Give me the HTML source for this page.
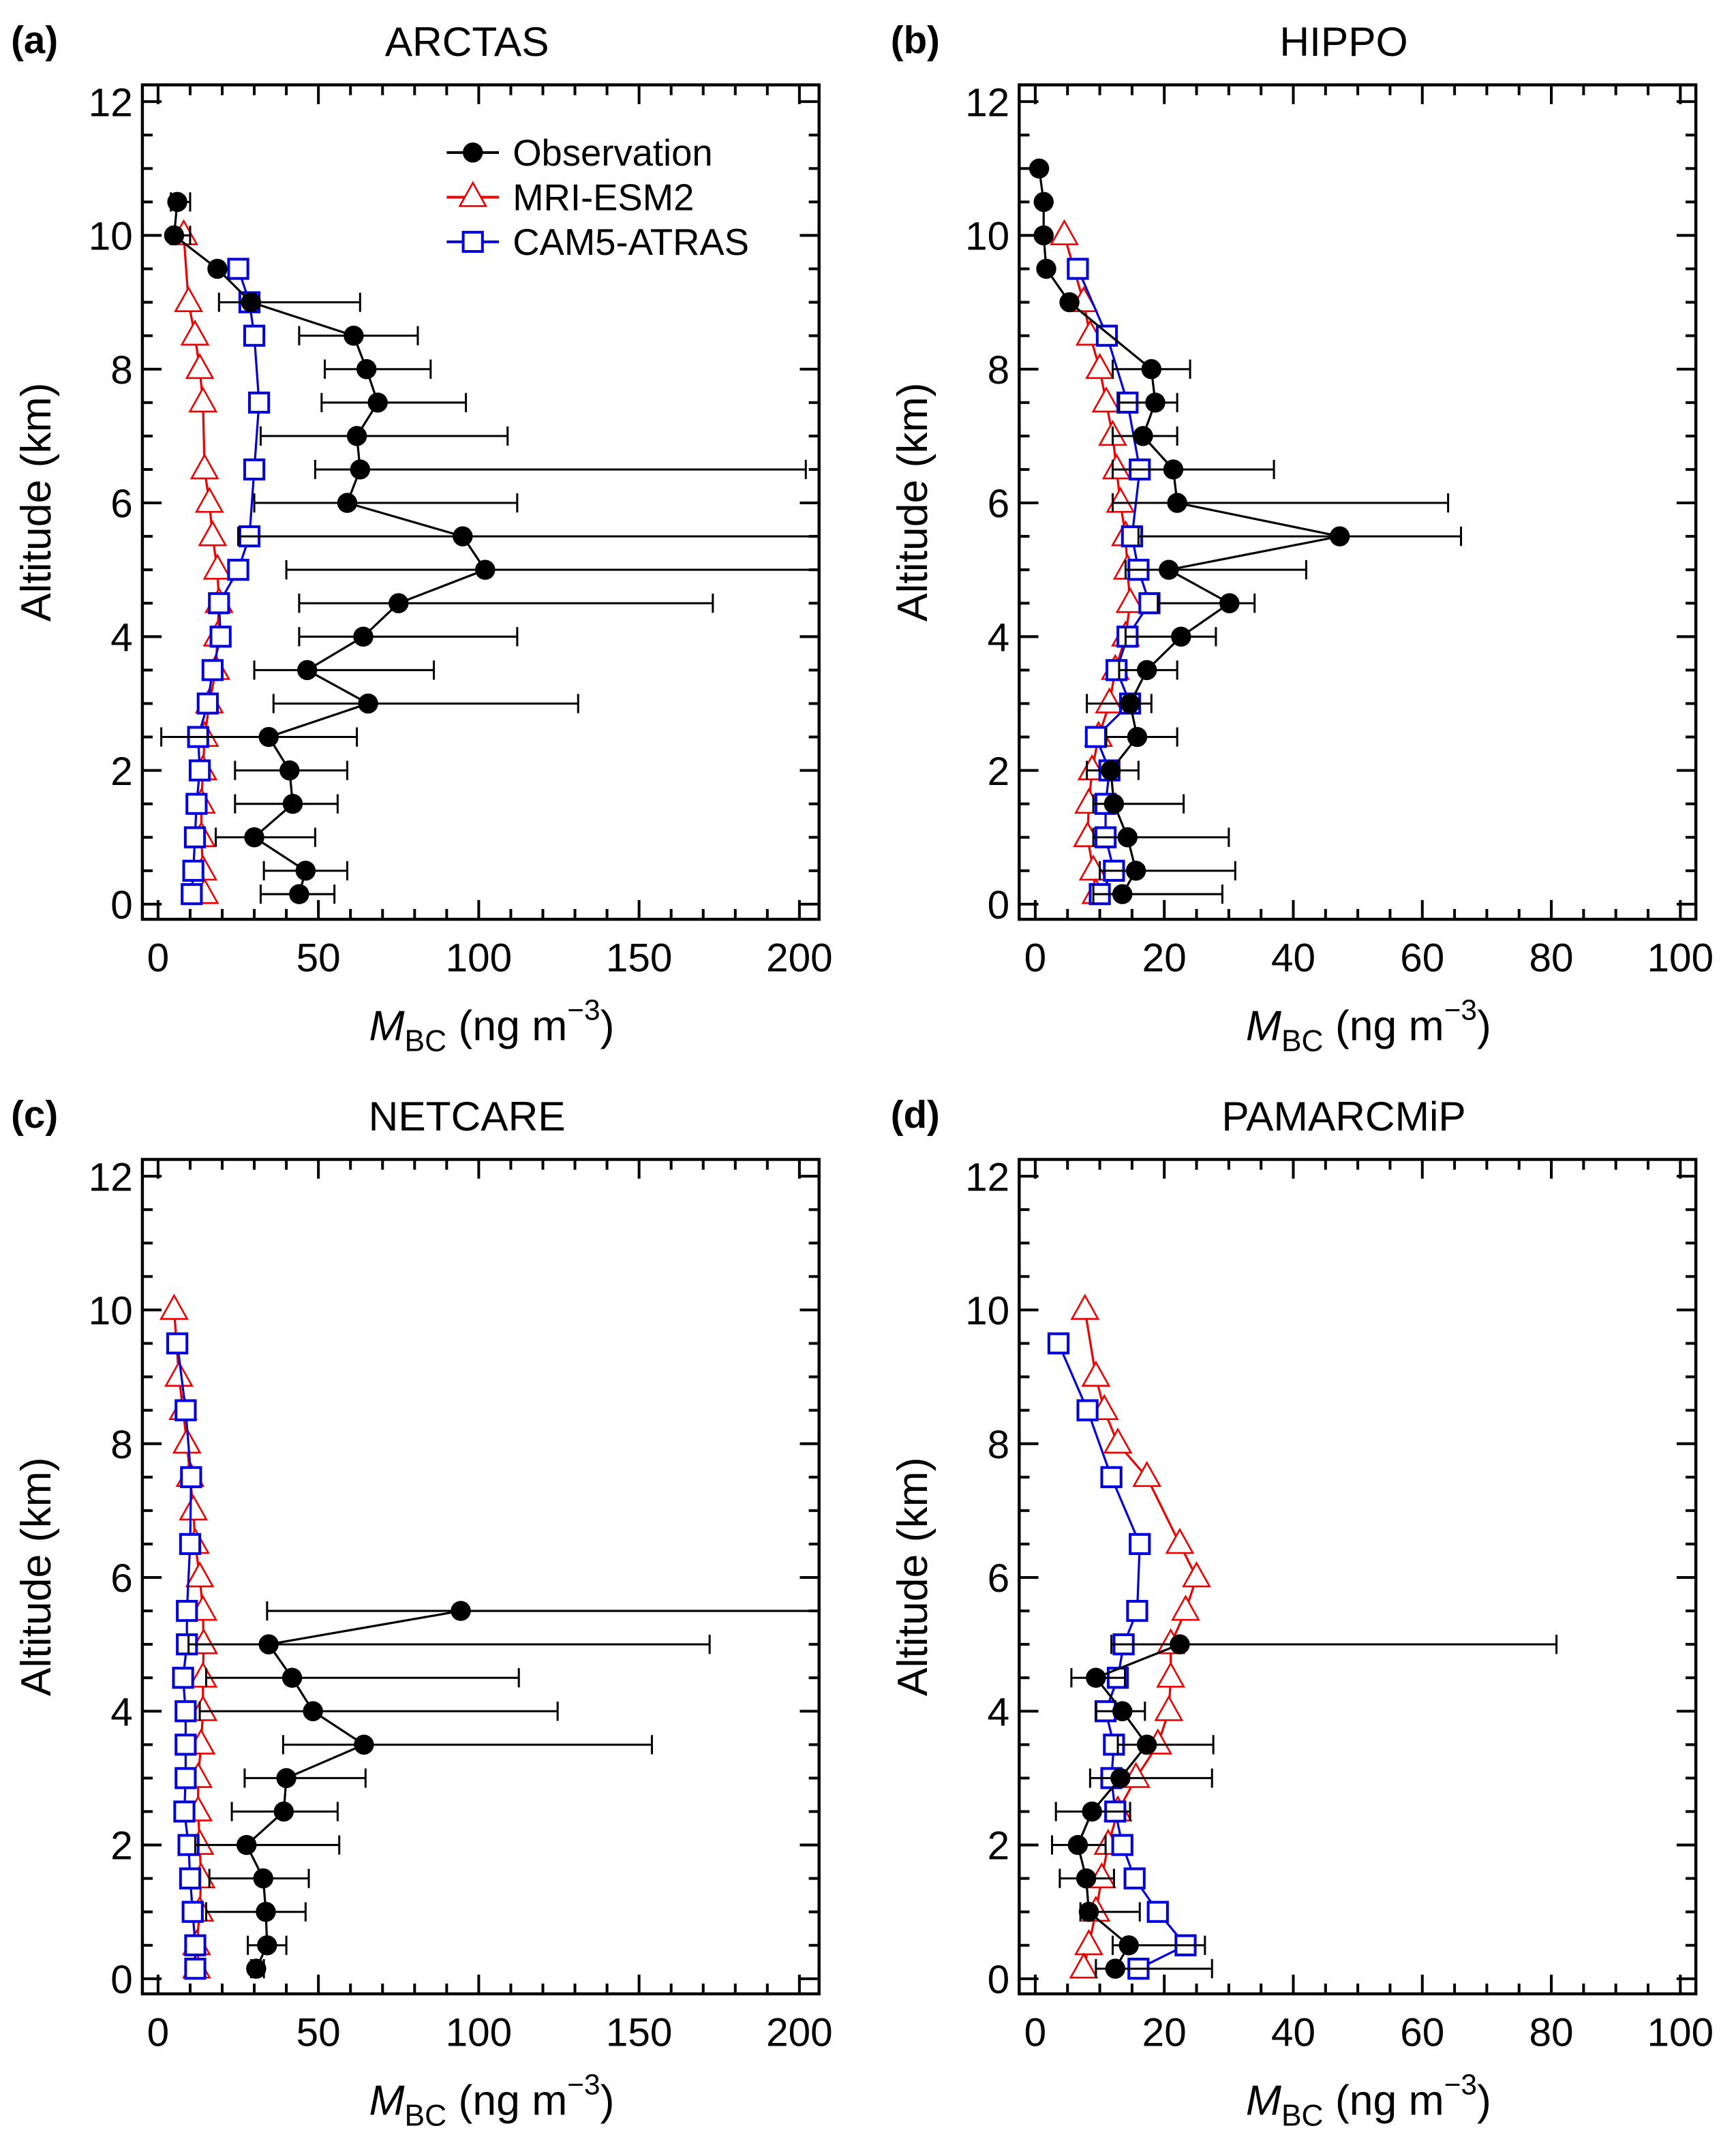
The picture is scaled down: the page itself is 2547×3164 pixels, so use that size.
<!DOCTYPE html>
<html><head><meta charset="utf-8"><style>
html,body{margin:0;padding:0;background:#fff}
svg{display:block}
text{font-family:"Liberation Sans",Arial,sans-serif;fill:#000}
</style></head><body>
<svg id="fig" xmlns="http://www.w3.org/2000/svg" width="2547" height="3164" viewBox="0 0 1263 1569" preserveAspectRatio="none"></svg>
<script>
// ---- data ----
const altA=[10.5,10,9.5,9,8.5,8,7.5,7,6.5,6,5.5,5,4.5,4,3.5,3,2.5,2,1.5,1,0.5,0.15];
const obsA=[6,5,18.5,29,61,65,68.5,62,63,59,95,102,75,64,46.5,65.5,34.5,41,42,30,46,44];
const loA=[4,4,18.5,19,44,52,51,32,49,30,25,40,44,44,30,36,1,24,24,18,33,32];
const hiA=[10,10,18.5,63,81,85,96,109,202,112,208,208,173,112,86,131,62,59,56,49,59,55];
const mriAltA=[10,9,8.5,8,7.5,6.5,6,5.5,5,4.5,4,3.5,3,2.5,2,1.5,1,0.5,0.15];
const mriA=[8,9.5,11.5,13,14,14.5,16,17,18.5,19,18.5,18,16,14.5,14,13.5,13.5,14,14.5];
const camAltA=[9.5,9,8.5,7.5,6.5,5.5,5,4.5,4,3.5,3,2.5,2,1.5,1,0.5,0.15];
const camA=[25,28.5,30,31.5,30,28.5,25,19,19.5,17,15.5,12.5,13,12,11.5,11,10.5];

const altB=[11,10.5,10,9.5,9,8,7.5,7,6.5,6,5.5,5,4.5,4,3.5,3,2.5,2,1.5,1,0.5,0.15];
const obsB=[0.6,1.3,1.3,1.7,5.3,18,18.6,16.7,21.4,22,47.2,20.7,30.1,22.6,17.3,14.7,15.8,11.7,12.2,14.3,15.6,13.5];
const loB=[0.6,1.3,1.3,1.7,5.3,12,13,12,12,12,16,14,19,14,13,8,11,8,9,9,10,9];
const hiB=[0.6,1.3,1.3,1.7,5.3,24,22,22,37,64,66,42,34,28,22,18,22,16,23,30,31,29];
const mriAltB=[10,9,8.5,8,7.5,7,6.5,6,5.5,5,4.5,4,3.5,3,2.5,2,1.5,1,0.5,0.15];
const mriB=[4.5,7.5,8.5,10,11,12,12.6,13.2,14,14.3,14.7,14,12.4,11.5,9.8,8.8,8.3,8.1,9,9.4];
const camAltB=[9.5,8.5,7.5,6.5,5.5,5,4.5,4,3.5,3,2.5,2,1.5,1,0.5,0.15];
const camB=[6.6,11.1,14.3,16.2,15,16,17.7,14.3,12.6,14.7,9.4,11.5,10.9,10.9,12.2,10];

const altC=[5.5,5,4.5,4,3.5,3,2.5,2,1.5,1,0.5,0.15];
const obsC=[94.4,34.5,41.8,48.3,64.2,40,39.2,27.6,32.8,33.6,34,30.6];
const loC=[34,9.5,15,13,39,27,23,11.6,16,15,28,29];
const hiC=[208,172,112.5,124.6,154,64.7,56,56.5,47,46,40,33];
const mriAltC=[10,9,8.5,8,7.5,7,6.5,6,5.5,5,4.5,4,3.5,3,2.5,2,1.5,1,0.5,0.15];
const mriC=[5,6.5,7.8,9,10,11,11.6,13,14,14.2,14,14,13.4,12.5,12.5,13,13.4,13,12,12];
const camAltC=[9.5,8.5,7.5,6.5,5.5,5,4.5,4,3.5,3,2.5,2,1.5,1,0.5,0.15];
const camC=[6,8.6,10.3,10,9,9,7.8,8.6,8.6,8.6,8.2,9.5,10,10.8,11.6,11.6];

const altD=[5,4.5,4,3.5,3,2.5,2,1.5,1,0.5,0.15];
const obsD=[22.4,9.4,13.5,17.3,13.2,8.8,6.6,7.9,8.3,14.5,12.4];
const loD=[11.8,5.6,9.4,12.8,8.5,3.2,2.6,3.8,7,12,9.4];
const hiD=[80.8,13.9,17,27.6,27.4,14.7,10.9,12.2,16.2,26.3,27.4];
const mriAltD=[10,9,8.5,8,7.5,6.5,6,5.5,5,4.5,4,3.5,3,2.5,2,1.5,1,0.5,0.15];
const mriD=[7.7,9.4,10.7,12.8,17.3,22.4,25,23.3,21,21,20.7,19,15.6,12.8,11.3,10.3,9.4,8.3,7.5];
const camAltD=[9.5,8.5,7.5,6.5,5.5,5,4.5,4,3.5,3,2.5,2,1.5,1,0.5,0.15];
const camD=[3.6,8.1,11.8,16.2,15.8,13.7,12.8,10.9,12.2,11.8,12.4,13.5,15.4,19,23.3,16];

const xTicksBig=[0,50,100,150,200];
const xTicksSmall=[0,20,40,60,80,100];
const yTicks=[0,2,4,6,8,10,12];

const NS="http://www.w3.org/2000/svg";
const svg=document.getElementById('fig');
function mk(tag,attrs,parent){const e=document.createElementNS(NS,tag);for(const k in attrs)e.setAttribute(k,attrs[k]);(parent||svg).appendChild(e);return e;}

function panel(p){
  const g=mk('g',{});
  
  
  const L=p.left,R=p.left+492.3,B=p.y0+11;
  const top=p.y0-12*48.67-12.2;
  const sx=v=>p.x0+v*p.k;
  const sy=v=>p.y0-v*48.67;
  const tg=mk('g',{stroke:'#000','stroke-width':2},g);
  for(let v=0;v<=p.xmax+0.001;v+=p.xminor){
    const major=Math.abs(v/p.xmajor-Math.round(v/p.xmajor))<1e-6;
    const len=major?14:7.5;
    mk('line',{x1:sx(v),x2:sx(v),y1:B,y2:B-len},tg);
    mk('line',{x1:sx(v),x2:sx(v),y1:top,y2:top+len},tg);
  }
  for(let v=0;v<=12.001;v+=0.5){
    const major=Math.abs(v/2-Math.round(v/2))<1e-6;
    const len=major?14:7.5;
    mk('line',{x1:L,x2:L+len,y1:sy(v),y2:sy(v)},tg);
    mk('line',{x1:R,x2:R-len,y1:sy(v),y2:sy(v)},tg);
  }
  const frame=mk('rect',{x:L,y:top,width:R-L,height:B-top,fill:'none',stroke:'#000','stroke-width':2.2},g);
  
  
  p.xt.forEach(v=>{const t=mk('text',{x:sx(v),y:B+38,'font-size':29,'text-anchor':'middle'},g);t.textContent=v;
    
    });
  yTicks.forEach(v=>{const t=mk('text',{x:L-7,y:sy(v)+10.5,'font-size':29,'text-anchor':'end'},g);t.textContent=v;
    
    });
  const yt=mk('text',{x:0,y:0,'font-size':31,'text-anchor':'middle',transform:`translate(${L-67},${(top+B)/2}) rotate(-90)`},g);
  yt.textContent='Altitude (km)';
  
  
  const xt=mk('text',{x:(L+R)/2+8,y:B+88,'font-size':31,'text-anchor':'middle'},g);
  xt.innerHTML='<tspan font-style="italic">M</tspan><tspan font-size="22" dy="8">BC</tspan><tspan dy="-8"> (ng m</tspan><tspan font-size="21" dy="-15">−3</tspan><tspan dy="15">)</tspan>';
  
  
  const tt=mk('text',{x:(L+R)/2-10,y:top-21,'font-size':30,'text-anchor':'middle'},g);tt.textContent=p.title;
  
  
  const pl=mk('text',{x:p.lx,y:top-23,'font-size':28,'font-weight':'bold'},g);pl.textContent='('+p.id+')';
  
  
  const cid='clip'+p.id;
  const cp=mk('clipPath',{id:cid},g);mk('rect',{x:L,y:top,width:R-L,height:B-top},cp);
  const dg=mk('g',{'clip-path':`url(#${cid})`},g);
  const mg=mk('g',{},dg);
  
  
  mk('polyline',{points:p.mri.map((v,i)=>sx(v)+','+sy(p.mriAlt[i])).join(' '),fill:'none',stroke:'#e00','stroke-width':1.6},mg);
  p.mri.forEach((v,i)=>{const x=sx(v),y=sy(p.mriAlt[i]);
    const m=mk('polygon',{points:`${x},${y-10.5} ${x-9.5},${y+6.5} ${x+9.5},${y+6.5}`,fill:'#fff',stroke:'#e00','stroke-width':1.3},mg);
    
    });
  const cg=mk('g',{},dg);
  
  
  mk('polyline',{points:p.cam.map((v,i)=>sx(v)+','+sy(p.camAlt[i])).join(' '),fill:'none',stroke:'#00d','stroke-width':1.6},cg);
  p.cam.forEach((v,i)=>{const x=sx(v),y=sy(p.camAlt[i]);
    const m=mk('rect',{x:x-7,y:y-7,width:14,height:14,fill:'#fff',stroke:'#00d','stroke-width':2},cg);
    
    });
  const og=mk('g',{},dg);
  
  
  p.lo.forEach((lo,i)=>{const y=sy(p.alt[i]);const hi=p.hi[i];
    if(hi-lo<0.01)return;
    const e=mk('g',{stroke:'#000','stroke-width':1.5},og);
    
    
    mk('line',{x1:sx(lo),x2:sx(hi),y1:y,y2:y},e);
    mk('line',{x1:sx(lo),x2:sx(lo),y1:y-7,y2:y+7},e);
    mk('line',{x1:sx(hi),x2:sx(hi),y1:y-7,y2:y+7},e);});
  mk('polyline',{points:p.obs.map((v,i)=>sx(v)+','+sy(p.alt[i])).join(' '),fill:'none',stroke:'#000','stroke-width':1.6},og);
  p.obs.forEach((v,i)=>{const m=mk('circle',{cx:sx(v),cy:sy(p.alt[i]),r:7.3,fill:'#000'},og);
    
    });
}
const A={id:'a',title:'ARCTAS',left:103.6,x0:115,k:2.333,y0:658,xmax:200,xminor:10,xmajor:50,xt:xTicksBig,lx:8,
  alt:altA,obs:obsA,lo:loA,hi:hiA,mriAlt:mriAltA,mri:mriA,camAlt:camAltA,cam:camA};
const Bp={id:'b',title:'HIPPO',left:741.5,x0:753.2,k:4.693,y0:658,xmax:100,xminor:5,xmajor:20,xt:xTicksSmall,lx:648,
  alt:altB,obs:obsB,lo:loB,hi:hiB,mriAlt:mriAltB,mri:mriB,camAlt:camAltB,cam:camB};
const C={id:'c',title:'NETCARE',left:103.6,x0:115,k:2.333,y0:1440,xmax:200,xminor:10,xmajor:50,xt:xTicksBig,lx:8,
  alt:altC,obs:obsC,lo:loC,hi:hiC,mriAlt:mriAltC,mri:mriC,camAlt:camAltC,cam:camC};
const D={id:'d',title:'PAMARCMiP',left:741.5,x0:753.2,k:4.693,y0:1440,xmax:100,xminor:5,xmajor:20,xt:xTicksSmall,lx:648,
  alt:altD,obs:obsD,lo:loD,hi:hiD,mriAlt:mriAltD,mri:mriD,camAlt:camAltD,cam:camD};
[A,Bp,C,D].forEach(panel);

const lg=mk('g',{});


const items=[['Observation','#000','c'],['MRI-ESM2','#e00','t'],['CAM5-ATRAS','#00d','s']];
items.forEach((it,i)=>{const y=111+i*32.5;const e=mk('g',{},lg);
  
  
  mk('line',{x1:325,x2:363,y1:y,y2:y,stroke:it[1],'stroke-width':2},e);
  if(it[2]==='c')mk('circle',{cx:344,cy:y,r:7.3,fill:'#000'},e);
  if(it[2]==='t')mk('polygon',{points:`344,${y-10.5} 334.5,${y+6.5} 353.5,${y+6.5}`,fill:'#fff',stroke:'#e00','stroke-width':1.3},e);
  if(it[2]==='s')mk('rect',{x:337,y:y-7,width:14,height:14,fill:'#fff',stroke:'#00d','stroke-width':2},e);
  const t=mk('text',{x:373,y:y+9.5,'font-size':27},e);t.textContent=it[0];});
</script>
</body></html>
